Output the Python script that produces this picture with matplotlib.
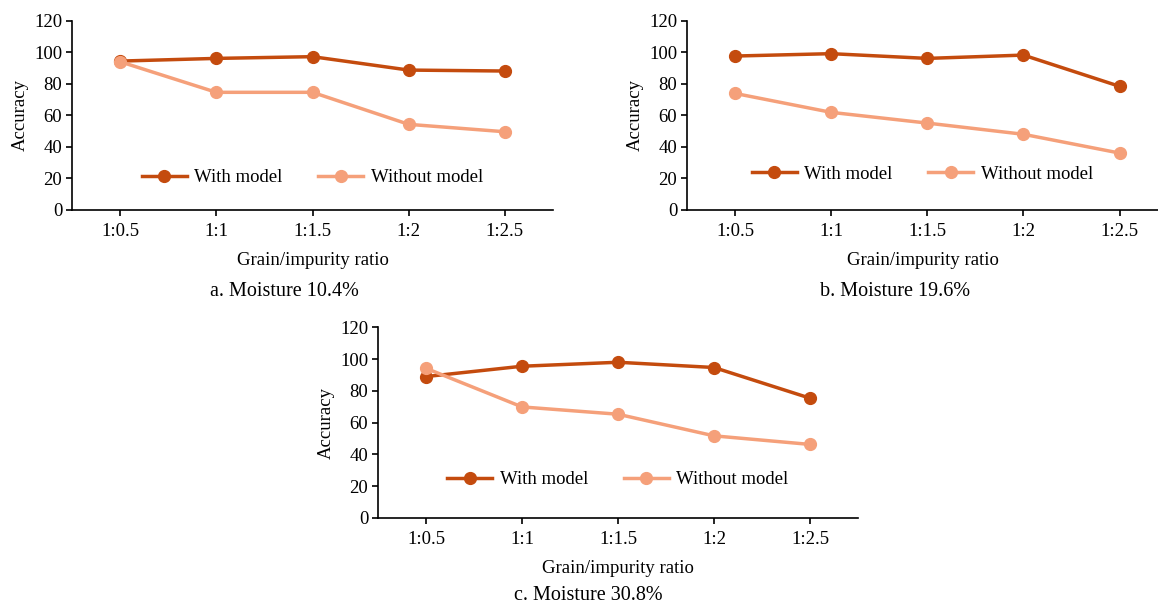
import matplotlib
matplotlib.use('Agg')
import matplotlib.pyplot as plt

matplotlib.rcParams['font.family'] = 'Liberation Serif'
matplotlib.rcParams['font.size'] = 13.5
matplotlib.rcParams['axes.linewidth'] = 1.2
matplotlib.rcParams['legend.frameon'] = False

ratios = ['1:0.5', '1:1', '1:1.5', '1:2', '1:2.5']
yticks = [0, 20, 40, 60, 80, 100, 120]

# a. moisture 10.4%
with_a = [94.4, 96.1, 97.2, 88.7, 88.1]
without_a = [94.0, 74.6, 74.6, 54.3, 49.6]
# b. moisture 19.6%
with_b = [97.6, 99.1, 96.1, 98.2, 78.4]
without_b = [73.9, 61.9, 55.1, 48.0, 36.1]
# c. moisture 30.8%
with_c = [89.0, 95.5, 98.0, 94.7, 75.4]
without_c = [94.2, 69.9, 65.3, 51.7, 46.3]

captions = ['a. Moisture 10.4%', 'b. Moisture 19.6%', 'c. Moisture 30.8%']

dark = '#C44B0E'
light = '#F5A07A'

W, H = 1158, 604
fig = plt.figure(figsize=(W / 100, H / 100), dpi=100)


def px_axes(left, right, top, bottom):
    return fig.add_axes([left / W, 1 - bottom / H, (right - left) / W, (bottom - top) / H])


def panel(ax, y_with, y_without, caption, xmax, leg_y, cap_x, cap_y):
    x = list(range(len(ratios)))
    ax.plot(x, y_with, color=dark, lw=2.5, marker='o', ms=8.5, label='With model', zorder=3)
    ax.plot(x, y_without, color=light, lw=2.5, marker='o', ms=8.5, label='Without model', zorder=3)
    ax.set_xlim(-0.5, xmax)
    ax.set_ylim(0, 120)
    ax.set_yticks(yticks)
    ax.set_xticks(x)
    ax.set_xticklabels(ratios)
    for s in ['top', 'right']:
        ax.spines[s].set_visible(False)
    ax.tick_params(direction='out', length=4, width=1.2, colors='black', pad=5)
    ax.tick_params(axis='y', pad=3)
    ax.set_ylabel('Accuracy', labelpad=4)
    ax.set_xlabel('Grain/impurity ratio', labelpad=9)
    ax.legend(loc='center', bbox_to_anchor=(0.5, leg_y), ncol=2, handlelength=2.4,
              handletextpad=0.4, columnspacing=1.9, fontsize=13.5)
    fig.text(cap_x / W, 1 - cap_y / H, caption, ha='center', va='center', fontsize=14.5)


ax1 = px_axes(72, 553, 20.7, 210)
panel(ax1, with_a, without_a, captions[0], 4.5, 0.17, 284, 291)

ax2 = px_axes(687, 1158, 20.7, 210)
panel(ax2, with_b, without_b, captions[1], 4.4, 0.19, 895, 291)

ax3 = px_axes(378, 858, 327.3, 518)
panel(ax3, with_c, without_c, captions[2], 4.5, 0.20, 588, 596)

fig.savefig('out.png', dpi=100)
